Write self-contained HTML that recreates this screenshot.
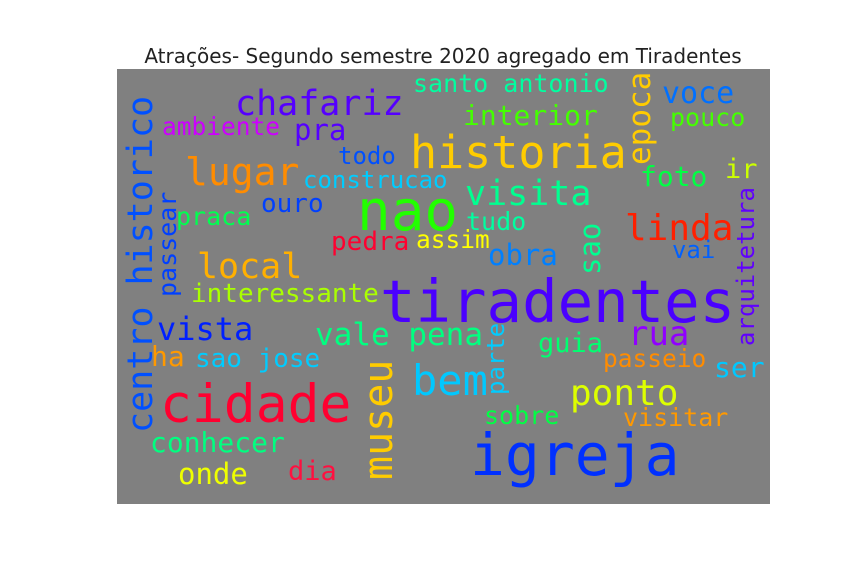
<!DOCTYPE html>
<html><head><meta charset="utf-8"><style>
html,body{margin:0;padding:0;background:#fff;width:864px;height:576px;overflow:hidden}
svg{display:block}
.w{font-family:"DejaVu Sans Mono","Liberation Mono",monospace}
</style></head><body>
<svg id="c" width="864" height="576">
<text x="443" y="63" text-anchor="middle" font-family="DejaVu Sans, Liberation Sans, sans-serif" font-size="20" fill="#222">Atrações- Segundo semestre 2020 agregado em Tiradentes</text>
<rect x="117" y="69" width="653" height="435" fill="#808080"/>
<g id="words"></g>
</svg>
<script>
const words=["tiradentes","igreja","cidade","nao","historia","centro historico","museu","lugar","chafariz","visita","linda","local","vista","vale pena","rua","bem","ponto","conhecer","onde","dia","epoca","voce","santo antonio","interior","pouco","foto","ir","arquitetura","ambiente","pra","todo","construcao","ouro","praca","passear","pedra","assim","tudo","obra","sao","vai","interessante","ha","sao jose","parte","guia","passeio","ser","sobre","visitar"];
const sizes=[59,58,53,56,45,35,40,38,35,35,36,35,32,31,34,42,36,28,29,27,31,30,25,28,25,28,27,24,24.5,29,24,24,26,25,25,26,24.5,25,29,29,24,26,28,26,24,27,24.5,28,25,25];
const colors=["#4a00ff","#0030ff","#ff0030","#22ff00","#ffcc00","#0050ff","#ffcc00","#ff8c00","#5500ff","#00ff90","#ff2000","#ffb000","#0020ff","#00ff80","#9000ff","#00c8ff","#ddff00","#00ff80","#eeff00","#ff1040","#ffcc00","#0070ff","#00ffa0","#44ff00","#44ff00","#00ff44","#ccff00","#6000ff","#cc00ff","#5500ff","#0050ff","#00ccff","#0040ff","#00ff50","#0040ff","#ff0030","#ffff00","#00ffa0","#0080ff","#00ff90","#0060ff","#aaff00","#ff9900","#00ccff","#00ccff","#00ff70","#ff8c00","#00c8ff","#00ff44","#ff9900"];
const posX=[380,470,160,357,410,152,392,185,235,465,625,197,157,315,628,412,570,150,178,288,650,662,413,463,670,640,725,754,162,294,338,303,261,176,176,331,416,466,488,600,672,191,151,195,504,538,603,714,484,623];
const posY=[322,475,422,230,168,433,480,185,115,205,240,278,340,345,345,395,405,452,484,480,165,103,92,125,126,186,178,346,135,140,164,188,212,225,297,250,248,230,265,275,258,302,366,367,395,352,367,377,424,426];
const vertical=[0,0,0,0,0,1,1,0,0,0,0,0,0,0,0,0,0,0,0,0,1,0,0,0,0,0,0,1,0,0,0,0,0,0,1,0,0,0,0,1,0,0,0,0,1,0,0,0,0,0];
const g=document.getElementById('words');
const NS="http://www.w3.org/2000/svg";
words.forEach((w,i)=>{
  const t=document.createElementNS(NS,'text');
  t.setAttribute('class','w');
  t.setAttribute('x',posX[i]);t.setAttribute('y',posY[i]);
  t.setAttribute('font-size',sizes[i]);t.setAttribute('fill',colors[i]);
  if(vertical[i])t.setAttribute('transform','rotate(-90 '+posX[i]+' '+posY[i]+')');
  t.textContent=w;
  
  
  g.appendChild(t);
  t.setAttribute('textLength',(0.602*sizes[i]*w.length).toFixed(1));
  t.setAttribute('lengthAdjust','spacingAndGlyphs');
});
</script>
</body></html>
